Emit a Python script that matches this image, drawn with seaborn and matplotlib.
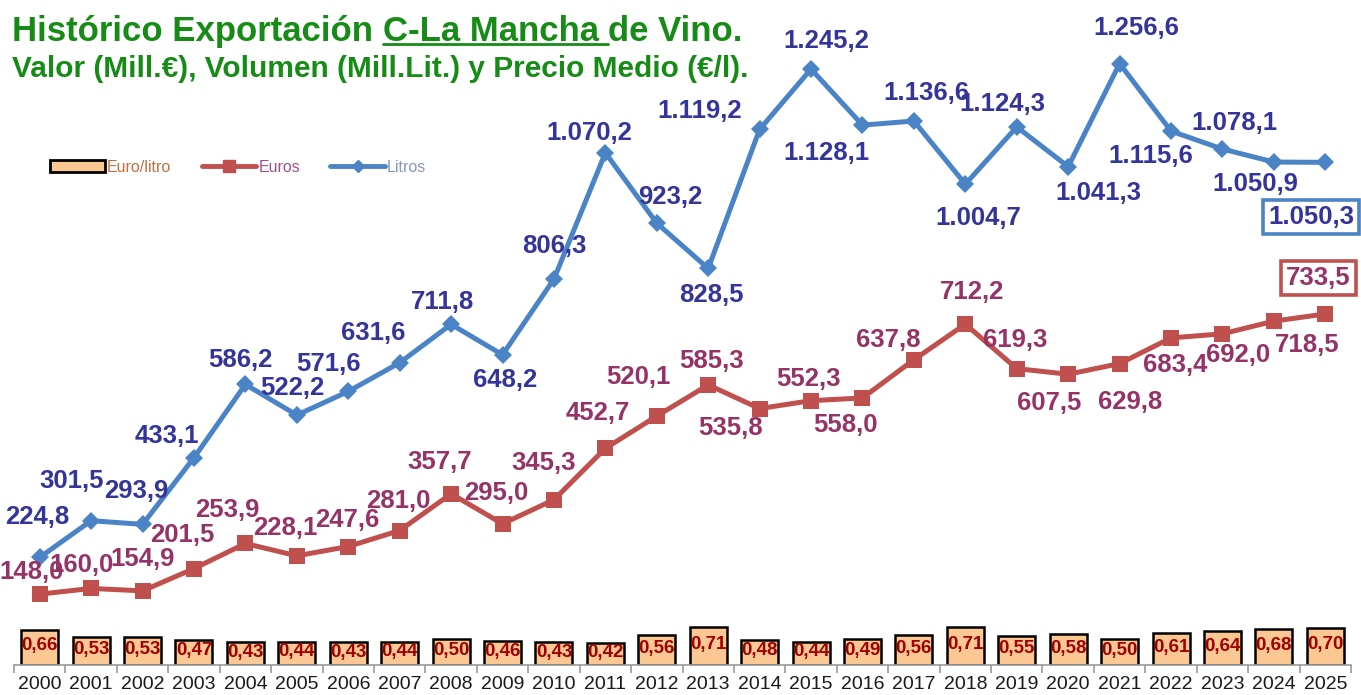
import numpy as np
import pandas as pd
import matplotlib
matplotlib.use("Agg")
import matplotlib.pyplot as plt
from matplotlib.lines import Line2D
from matplotlib.patches import Patch
from matplotlib.ticker import FixedLocator
import seaborn as sns

# --------------------------------------------------------------------------- #
# Data
# --------------------------------------------------------------------------- #
years = list(range(2000, 2026))
litros = [224.8, 301.5, 293.9, 433.1, 586.2, 522.2, 571.6, 631.6, 711.8, 648.2,
          806.3, 1070.2, 923.2, 828.5, 1119.2, 1245.2, 1128.1, 1136.6, 1004.7,
          1124.3, 1041.3, 1256.6, 1115.6, 1078.1, 1050.9, 1050.3]
euros = [148.0, 160.0, 154.9, 201.5, 253.9, 228.1, 247.6, 281.0, 357.7, 295.0,
         345.3, 452.7, 520.1, 585.3, 535.8, 552.3, 558.0, 637.8, 712.2, 619.3,
         607.5, 629.8, 683.4, 692.0, 718.5, 733.5]
euro_litro = [0.66, 0.53, 0.53, 0.47, 0.43, 0.44, 0.43, 0.44, 0.50, 0.46, 0.43,
              0.42, 0.56, 0.71, 0.48, 0.44, 0.49, 0.56, 0.71, 0.55, 0.58, 0.50,
              0.61, 0.64, 0.68, 0.70]

# label offsets in pixels (dx, dy with y pointing down), style only
litros_offsets = [(-2, -40), (-20, -40), (-6, -33), (-27, -22), (-5, -24),
                  (-5, -27), (-20, -27), (-26, -30), (-9, -22), (3, 25),
                  (0, -33), (-16, -20), (13, -26), (3, 27), (-60, -18),
                  (15, -28), (-36, 28), (12, -28), (13, 34), (-14, -23),
                  (30, 26), (17, -36), (-20, 25), (12, -26), (-19, 22), (-14, 55)]
euros_offsets = [(-8, -22), (-10, -23), (0, -32), (-12, -34), (-18, -33),
                 (-12, -28), (-1, -27), (-1, -30), (-11, -32), (-6, -31),
                 (-10, -37), (-8, -35), (-18, -39), (3, -24), (-29, 19),
                 (-3, -22), (-17, 27), (-26, -20), (7, -32), (-2, -29),
                 (-19, 29), (11, 38), (4, 27), (16, 21), (33, 24), (-7, -36)]

GREEN = "#168c16"
BLUE = "#4a84c6"
RED = "#c0504d"
BLUE_TXT = "#34349a"
RED_TXT = "#963366"
BAR_FILL = "#fbc894"
BAR_TXT = "#a00000"

W, H = 1361, 695


def es_fmt(v, dec=1):
    """Spanish number format: 1.234,5"""
    s = f"{v:,.{dec}f}"
    return s.replace(",", "X").replace(".", ",").replace("X", ".")


sns.set_theme(style="white")
plt.rcParams["font.family"] = ["Liberation Sans", "DejaVu Sans"]

df = pd.DataFrame({"Año": years, "Litros": litros, "Euros": euros,
                   "Euro/litro": euro_litro})

fig = plt.figure(figsize=(W / 100, H / 100), dpi=100)
ax = fig.add_axes([14 / W, 30 / H, 1337 / W, 665 / H])

# --- Bars: euro / litro ----------------------------------------------------
sns.barplot(data=df, x="Año", y="Euro/litro", native_scale=True, width=0.72,
            color=BAR_FILL, saturation=1, edgecolor="black", linewidth=1.8,
            ax=ax)
ax.set_xlim(1999.5, 2025.5)
ax.set_ylim(0, 12.55)
for yr, v in zip(years, euro_litro):
    ax.text(yr, v * 0.5 + 0.03, es_fmt(v, 2), ha="center", va="center",
            fontsize=13.5, fontweight="bold", color=BAR_TXT)

# --- Lines: euros and litros -----------------------------------------------
ax2 = ax.twinx()
sns.lineplot(data=df, x="Año", y="Euros", ax=ax2, color=RED, linewidth=3.6,
             marker="s", markersize=12, markeredgewidth=0, legend=False)
sns.lineplot(data=df, x="Año", y="Litros", ax=ax2, color=BLUE, linewidth=3.6,
             marker="D", markersize=9, markeredgewidth=0, legend=False)
ax2.set_ylim(0, 1389.5)

for i, (yr, v) in enumerate(zip(years, litros)):
    dx, dy = litros_offsets[i]
    box = None
    if i == len(years) - 1:
        box = dict(boxstyle="square,pad=0.2", fc="white", ec=BLUE, lw=2.6)
    ax2.annotate(es_fmt(v), (yr, v), xytext=(dx, -dy), textcoords="offset pixels",
                 ha="center", va="center", fontsize=18.5, fontweight="bold",
                 color=BLUE_TXT, bbox=box, annotation_clip=False)

for i, (yr, v) in enumerate(zip(years, euros)):
    dx, dy = euros_offsets[i]
    box = None
    if i == len(years) - 1:
        box = dict(boxstyle="square,pad=0.2", fc="white", ec=RED, lw=2.6)
    ax2.annotate(es_fmt(v), (yr, v), xytext=(dx, -dy), textcoords="offset pixels",
                 ha="center", va="center", fontsize=18.5, fontweight="bold",
                 color=RED_TXT, bbox=box, annotation_clip=False)

# --- Axes styling ------------------------------------------------------------
for a in (ax, ax2):
    a.set_yticks([])
    a.set_xlabel("")
    a.set_ylabel("")
    for side in ("left", "right", "top"):
        a.spines[side].set_visible(False)
ax2.spines["bottom"].set_visible(False)
ax.spines["bottom"].set_color("#9a9a9a")
ax.spines["bottom"].set_linewidth(1.2)
ax.set_xticks(years)
ax.set_xticklabels([str(y) for y in years])
ax.xaxis.set_minor_locator(FixedLocator(np.arange(1999.5, 2026, 1)))
ax.tick_params(axis="x", which="major", length=0, labelsize=14, pad=8,
               labelcolor="#1a1a1a", bottom=True)
ax.tick_params(axis="x", which="minor", length=6, width=1.2, color="#9a9a9a",
               direction="out", bottom=True)

# --- Legend ------------------------------------------------------------------
handles = [Patch(facecolor=BAR_FILL, edgecolor="black", linewidth=2),
           Line2D([], [], color=RED, lw=3.5, marker="s", markersize=8),
           Line2D([], [], color=BLUE, lw=3.5, marker="D", markersize=6)]
fig.legend(handles, ["Euro/litro", "Euros", "Litros"], loc="center left",
           bbox_to_anchor=(36 / W, 1 - 167 / H), ncol=3, frameon=False,
           fontsize=11.5, handlelength=3.4, handleheight=0.7, handletextpad=0.15,
           columnspacing=1.9, labelcolor=["#c0703e", "#a0508a", "#8a96b8"])

# --- Title -------------------------------------------------------------------
t1 = fig.text(12 / W, 1 - 41 / H, "Histórico Exportación", fontsize=25,
              fontweight="bold", color=GREEN, va="baseline")
t2 = ax.annotate("C-La Mancha", xy=(1, 0), xycoords=t1, xytext=(7, 0),
                 textcoords="offset points", va="bottom", fontsize=25,
                 fontweight="bold", color=GREEN, annotation_clip=False)
t3 = ax.annotate("de Vino.", xy=(1, 0), xycoords=t2, xytext=(7, 0),
                 textcoords="offset points", va="bottom", fontsize=25,
                 fontweight="bold", color=GREEN, annotation_clip=False)
fig.text(12 / W, 1 - 77 / H,
         "Valor (Mill.€), Volumen (Mill.Lit.) y Precio Medio (€/l).",
         fontsize=21.5, fontweight="bold", color=GREEN, va="baseline")

fig.canvas.draw()
bb = t2.get_window_extent()
uy = bb.y0 + 4
fig.add_artist(Line2D([bb.x0 / W, (bb.x1 + 9) / W], [uy / H, uy / H],
                      transform=fig.transFigure, color=GREEN, lw=2))

fig.savefig("out.png", dpi=100)
